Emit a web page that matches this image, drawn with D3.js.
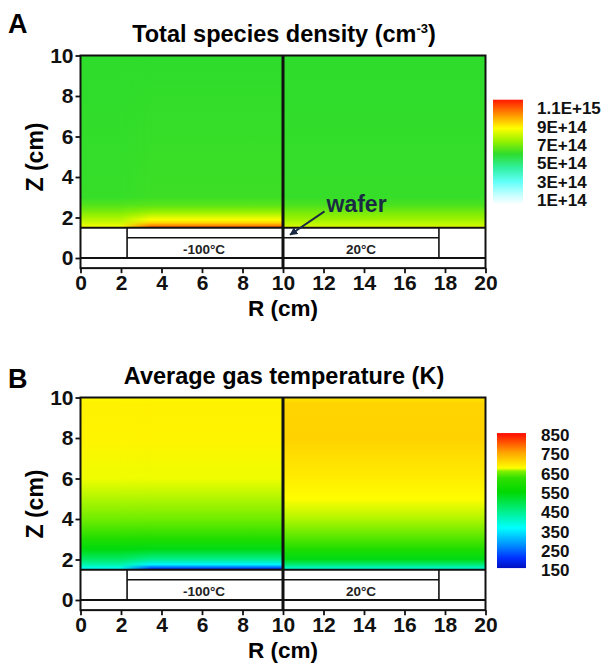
<!DOCTYPE html>
<html>
<head>
<meta charset="utf-8">
<script src="https://cdn.jsdelivr.net/npm/d3@7"></script>
<style>
body { margin: 0; background: #fff; }
text { font-family: "Liberation Sans", Arial, sans-serif; font-weight: bold; }
</style>
</head>
<body>
<svg id="chart" width="611" height="665"></svg>
<script>
// axis ticks (cm)
const rTicks = [0, 2, 4, 6, 8, 10, 12, 14, 16, 18, 20];
const zTicks = [0, 2, 4, 6, 8, 10];

// total species density, in 1E+14 cm^-3, read along z at three radial zones
const densZ     = [1.5, 1.6, 1.75, 1.9, 2.1, 2.3, 2.6, 3.0, 10];
const densLeft  = [11.3, 10.4, 9.3, 8.7, 8.0, 7.3, 6.6, 6.2, 6.0];
const densEdge  = [8.8, 8.5, 8.1, 7.8, 7.4, 7.0, 6.5, 6.1, 6.0];
const densRight = [8.9, 8.1, 7.8, 7.5, 7.2, 6.9, 6.4, 6.1, 6.0];

const densTicks = [11, 9, 7, 5, 3, 1];
const densTickLabels = ["1.1E+15", "9E+14", "7E+14", "5E+14", "3E+14", "1E+14"];
const densBar = [0.5, 11.9];
const densStops  = [0.5, 1.5, 3.0, 4.5, 6.0, 7.3, 8.8, 10.2, 11.9];
const densColors = ["#ffffff", "#c8ffff", "#60fff8", "#30f0a0", "#2edc2c", "#90f000", "#ffff00", "#ff9800", "#ff1800"];

// average gas temperature, K
const tempZ     = [1.5, 1.6, 1.75, 2.0, 2.5, 3.0, 4.0, 5.0, 6.0, 8.0, 9.7, 10];
const tempLeft  = [170, 250, 360, 450, 540, 600, 655, 668, 676, 688, 690, 682];
const tempEdge  = [360, 390, 430, 480, 545, 602, 655, 668, 676, 688, 690, 682];
const tempRight = [390, 420, 470, 540, 600, 640, 668, 680, 694, 718, 716, 700];

const tempTicks = [850, 750, 650, 550, 450, 350, 250, 150];
const tempTickLabels = ["850", "750", "650", "550", "450", "350", "250", "150"];
const tempBar = [160, 860];
const tempStops  = [160, 212, 280, 368, 450, 555, 627, 662, 678, 762, 855];
const tempColors = ["#0010c0", "#0030ff", "#0090ff", "#00ffff", "#00f090", "#00d800", "#30e000", "#80f000", "#ffff00", "#ffa000", "#ff1000"];

// reactor geometry (cm)
const holderR = [2.3, 17.7];
const holderZ = [0, 1.0, 1.5];
const edgeFade = [2.0, 3.5];
const wallR = 10;
const stageLabels = [{r: 6.1, z: 0.45, text: "-100°C"}, {r: 13.85, z: 0.45, text: "20°C"}];

const svg = d3.select("#chart");
const defs = svg.append("defs");

const x = d3.scaleLinear().domain([0, 20]).range([80.5, 485.5]);

const panels = [
    {
        key: "A", top: 55.5, letterY: 33, titleY: 42, zLabelY: 157,
        title: "Total species density (cm", sup: "-3", tail: ")",
        zs: densZ, left: densLeft, edge: densEdge, right: densRight,
        color: d3.scaleLinear().domain(densStops).range(densColors).clamp(true),
        bar: densBar, ticks: densTicks, tickLabels: densTickLabels,
        barX: 493, barW: 30, labelX: 537, labelRange: [108, 200], tickVals: [11, 1],
        wafer: true
    },
    {
        key: "B", top: 397.5, letterY: 388, titleY: 384, zLabelY: 504,
        title: "Average gas temperature (K)", sup: null, tail: "",
        zs: tempZ, left: tempLeft, edge: tempEdge, right: tempRight,
        color: d3.scaleLinear().domain(tempStops).range(tempColors).clamp(true),
        bar: tempBar, ticks: tempTicks, tickLabels: tempTickLabels,
        barX: 497, barW: 29, labelX: 541, labelRange: [435, 570], tickVals: [850, 150],
        wafer: false
    }
];

panels.forEach(p => drawPanel(p));

function drawPanel(p) {
    const y = d3.scaleLinear().domain([10, -0.5]).range([p.top, p.top + 10.5 * 20.25]);
    const g = svg.append("g");

    // field, one vertical gradient per radial zone
    const zone = (name, vals, r0, r1, mask) => {
        const id = "grad" + p.key + name;
        const z0 = p.zs[0], zN = p.zs[p.zs.length - 1];
        const grad = defs.append("linearGradient")
            .attr("id", id)
            .attr("gradientUnits", "userSpaceOnUse")
            .attr("x1", 0).attr("x2", 0)
            .attr("y1", y(z0)).attr("y2", y(zN));
        grad.selectAll("stop")
            .data(p.zs)
            .enter()
            .append("stop")
            .attr("offset", d => (d - z0) / (zN - z0))
            .attr("stop-color", (d, i) => p.color(vals[i]));
        const rect = g.append("rect")
            .attr("x", x(r0))
            .attr("y", y(10))
            .attr("width", x(r1) - x(r0))
            .attr("height", y(holderZ[2]) - y(10))
            .attr("fill", "url(#" + id + ")");
        if (mask) rect.attr("mask", "url(#" + mask + ")");
    };

    const maskId = "mask" + p.key;
    const fadeId = "fade" + p.key;
    const fade = defs.append("linearGradient")
        .attr("id", fadeId)
        .attr("gradientUnits", "userSpaceOnUse")
        .attr("x1", x(edgeFade[0])).attr("x2", x(edgeFade[1]))
        .attr("y1", 0).attr("y2", 0);
    fade.append("stop").attr("offset", 0).attr("stop-color", "#fff");
    fade.append("stop").attr("offset", 1).attr("stop-color", "#000");
    defs.append("mask").attr("id", maskId)
        .attr("maskUnits", "userSpaceOnUse")
        .attr("x", 0).attr("y", 0).attr("width", 611).attr("height", 665)
        .append("rect")
        .attr("x", x(0)).attr("y", y(10))
        .attr("width", x(edgeFade[1]) - x(0))
        .attr("height", y(holderZ[2]) - y(10))
        .attr("fill", "url(#" + fadeId + ")");

    zone("left", p.left, 0, wallR);
    zone("edge", p.edge, 0, edgeFade[1], maskId);
    zone("right", p.right, wallR, 20);

    // reactor outline
    const line = (r0, z0, r1, z1, w) => g.append("line")
        .attr("x1", x(r0)).attr("y1", y(z0))
        .attr("x2", x(r1)).attr("y2", y(z1))
        .attr("stroke", "#111").attr("stroke-width", w);
    line(0, holderZ[2], 20, holderZ[2], 2);
    line(holderR[0], holderZ[1], holderR[1], holderZ[1], 1.6);
    line(0, holderZ[0], 20, holderZ[0], 2);
    line(holderR[0], holderZ[0], holderR[0], holderZ[2], 1.6);
    line(holderR[1], holderZ[0], holderR[1], holderZ[2], 1.6);
    line(wallR, -0.5, wallR, 10, 3);

    g.append("rect")
        .attr("x", x(0)).attr("y", y(10))
        .attr("width", x(20) - x(0)).attr("height", y(-0.5) - y(10))
        .attr("fill", "none").attr("stroke", "#111").attr("stroke-width", 2);

    g.selectAll(".stage")
        .data(stageLabels)
        .enter()
        .append("text")
        .attr("x", d => x(d.r))
        .attr("y", d => y(d.z))
        .attr("dy", "0.36em")
        .attr("text-anchor", "middle")
        .style("font-size", "13.5px")
        .attr("fill", "#222")
        .text(d => d.text);

    // axes
    const xAxis = g.append("g")
        .attr("transform", "translate(0," + y(-0.5) + ")")
        .call(d3.axisBottom(x).tickValues(rTicks).tickSize(5).tickPadding(2));
    const yAxis = g.append("g")
        .attr("transform", "translate(" + x(0) + ",0)")
        .call(d3.axisLeft(y).tickValues(zTicks).tickSize(5).tickPadding(2));
    [xAxis, yAxis].forEach(a => {
        a.select(".domain").remove();
        a.selectAll(".tick line").attr("stroke", "#111").attr("stroke-width", 1.8);
        a.selectAll(".tick text")
            .style("font-size", "21px")
            .style("font-family", "'Liberation Sans', Arial, sans-serif")
            .style("font-weight", "bold")
            .attr("fill", "#111");
    });

    g.append("text")
        .attr("x", x(10))
        .attr("y", y(-0.5) + 48)
        .attr("text-anchor", "middle")
        .style("font-size", "22.5px")
        .text("R (cm)");
    g.append("text")
        .attr("transform", "translate(35," + p.zLabelY + ") rotate(-90)")
        .attr("dy", "0.36em")
        .attr("text-anchor", "middle")
        .style("font-size", "23px")
        .text("Z (cm)");

    // titles
    g.append("text")
        .attr("x", 8).attr("y", p.letterY)
        .style("font-size", "27px")
        .text(p.key);
    const title = g.append("text")
        .attr("x", 284).attr("y", p.titleY)
        .attr("text-anchor", "middle")
        .style("font-size", "23.5px")
        .text(p.title);
    if (p.sup) {
        title.append("tspan").attr("dy", -9).style("font-size", "13px").text(p.sup);
        title.append("tspan").attr("dy", 9).text(p.tail);
    }

    // colour bar
    const yc = d3.scaleLinear().domain(p.tickVals).range(p.labelRange);
    const barId = "bar" + p.key;
    const barGrad = defs.append("linearGradient")
        .attr("id", barId)
        .attr("gradientUnits", "userSpaceOnUse")
        .attr("x1", 0).attr("x2", 0)
        .attr("y1", yc(p.bar[0])).attr("y2", yc(p.bar[1]));
    const stops = p.color.domain();
    barGrad.selectAll("stop")
        .data(stops)
        .enter()
        .append("stop")
        .attr("offset", d => (d - p.bar[0]) / (p.bar[1] - p.bar[0]))
        .attr("stop-color", d => p.color(d));
    g.append("rect")
        .attr("x", p.barX).attr("y", yc(p.bar[1]))
        .attr("width", p.barW).attr("height", yc(p.bar[0]) - yc(p.bar[1]))
        .attr("fill", "url(#" + barId + ")");
    g.selectAll(".cbl")
        .data(p.ticks)
        .enter()
        .append("text")
        .attr("x", p.labelX)
        .attr("y", d => yc(d))
        .attr("dy", "0.36em")
        .style("font-size", "17px")
        .attr("fill", "#111")
        .text((d, i) => p.tickLabels[i]);

    if (p.wafer) {
        const head = defs.append("marker")
            .attr("id", "arrow")
            .attr("viewBox", "0 0 10 10")
            .attr("refX", 9).attr("refY", 5)
            .attr("markerWidth", 8).attr("markerHeight", 8)
            .attr("orient", "auto")
            .attr("markerUnits", "userSpaceOnUse");
        head.append("path").attr("d", "M0,0L10,5L0,10z").attr("fill", "#1b2a44");
        g.append("line")
            .attr("x1", x(12.05)).attr("y1", y(2.3))
            .attr("x2", x(10.35)).attr("y2", y(1.15))
            .attr("stroke", "#1b2a44").attr("stroke-width", 2)
            .attr("marker-end", "url(#arrow)");
        g.append("text")
            .attr("x", x(12.15)).attr("y", y(2.25))
            .style("font-size", "23px")
            .attr("fill", "#1b2a44")
            .text("wafer");
    }
}
</script>
</body>
</html>
